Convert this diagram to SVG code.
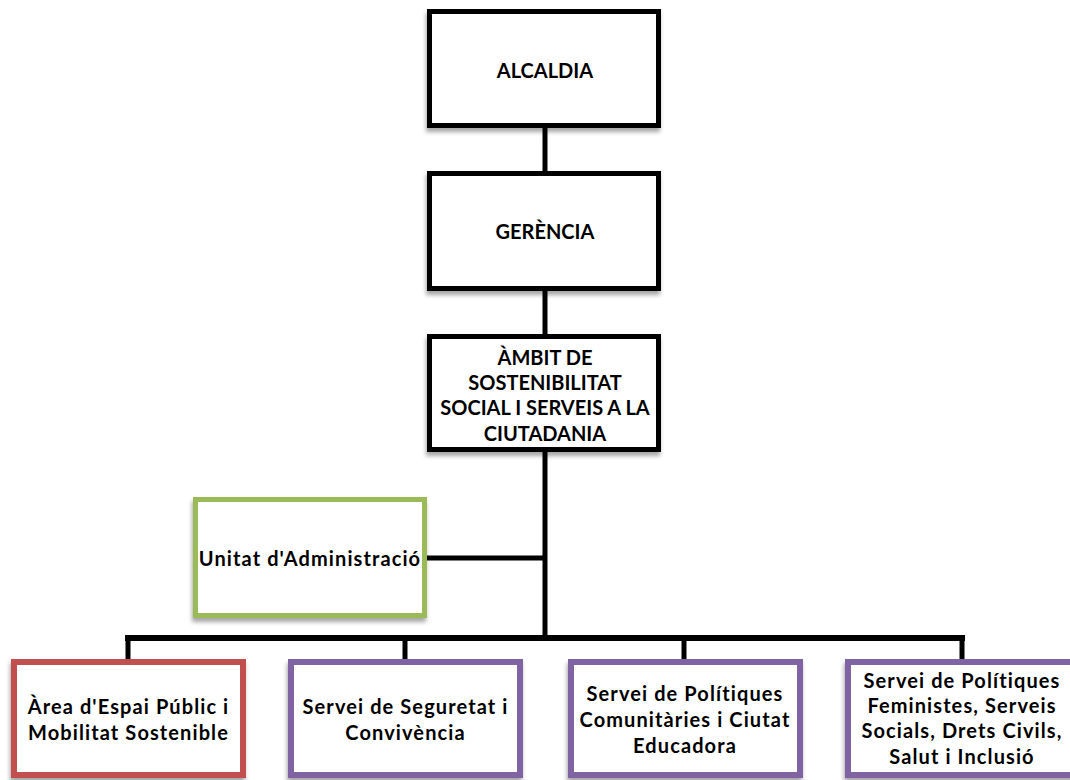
<svg xmlns="http://www.w3.org/2000/svg" width="1070" height="780" viewBox="0 0 1070 780">
<defs>
<filter id="sh" x="-10%" y="-10%" width="120%" height="130%">
<feDropShadow dx="-1" dy="4" stdDeviation="2" flood-color="#000" flood-opacity="0.35"/>
</filter>
<style>
.box{fill:#fff;filter:url(#sh)}
.blk{stroke:#000;stroke-width:5}
.grn{stroke:#9BBB59;stroke-width:5}
.red{stroke:#C0504D;stroke-width:6}
.pur{stroke:#8064A2;stroke-width:6}
.t{font-family:Lato,"Liberation Sans",sans-serif;font-weight:bold;font-size:20px;fill:#000;text-anchor:middle;dominant-baseline:central}
.m{letter-spacing:1.1px}
.c{stroke:#000;fill:none}
</style>
</defs>
<rect width="1070" height="780" fill="#fff"/>
<g id="connectors">
<line class="c" x1="545" y1="120" x2="545" y2="340" stroke-width="5"/>
<line class="c" x1="545" y1="445" x2="545" y2="641" stroke-width="5"/>
<line class="c" x1="425" y1="558" x2="545" y2="558" stroke-width="5"/>
<line class="c" x1="125" y1="638" x2="965" y2="638" stroke-width="6"/>
<line class="c" x1="128" y1="638" x2="128" y2="662" stroke-width="5"/>
<line class="c" x1="405" y1="638" x2="405" y2="662" stroke-width="5"/>
<line class="c" x1="684" y1="638" x2="684" y2="662" stroke-width="5"/>
<line class="c" x1="962" y1="638" x2="962" y2="662" stroke-width="5"/>
</g>
<g id="alcaldia">
<rect class="box blk" x="429.5" y="11.5" width="229" height="114"/>
<text class="t" x="545" y="70">ALCALDIA</text>
</g>
<g id="gerencia">
<rect class="box blk" x="429.5" y="173.5" width="229" height="115"/>
<text class="t" x="545" y="231">GERÈNCIA</text>
</g>
<g id="ambit">
<rect class="box blk" x="429.5" y="336.5" width="229" height="113"/>
<text class="t" x="545" y="357">ÀMBIT DE</text>
<text class="t" x="545" y="382">SOSTENIBILITAT</text>
<text class="t" x="545" y="407">SOCIAL I SERVEIS A LA</text>
<text class="t" x="545" y="433">CIUTADANIA</text>
</g>
<g id="unitat">
<rect class="box grn" x="195.5" y="499.5" width="229" height="116"/>
<text class="t m" x="310" y="558">Unitat d'Administració</text>
</g>
<g id="area">
<rect class="box red" x="14" y="662" width="229" height="113"/>
<text class="t m" x="128.5" y="706">Àrea d'Espai Públic i</text>
<text class="t m" x="128.5" y="732">Mobilitat Sostenible</text>
</g>
<g id="seguretat">
<rect class="box pur" x="291" y="662" width="229" height="113"/>
<text class="t m" x="405.5" y="706">Servei de Seguretat i</text>
<text class="t m" x="405.5" y="732">Convivència</text>
</g>
<g id="comunitaries">
<rect class="box pur" x="571" y="662" width="229" height="113"/>
<text class="t m" x="685" y="693">Servei de Polítiques</text>
<text class="t m" x="685" y="719">Comunitàries i Ciutat</text>
<text class="t m" x="685" y="745">Educadora</text>
</g>
<g id="feministes">
<rect class="box pur" x="848" y="662" width="229" height="113"/>
<text class="t m" x="962" y="680">Servei de Polítiques</text>
<text class="t m" x="962" y="705">Feministes, Serveis</text>
<text class="t m" x="962" y="730">Socials, Drets Civils,</text>
<text class="t m" x="962" y="756">Salut i Inclusió</text>
</g>
</svg>
